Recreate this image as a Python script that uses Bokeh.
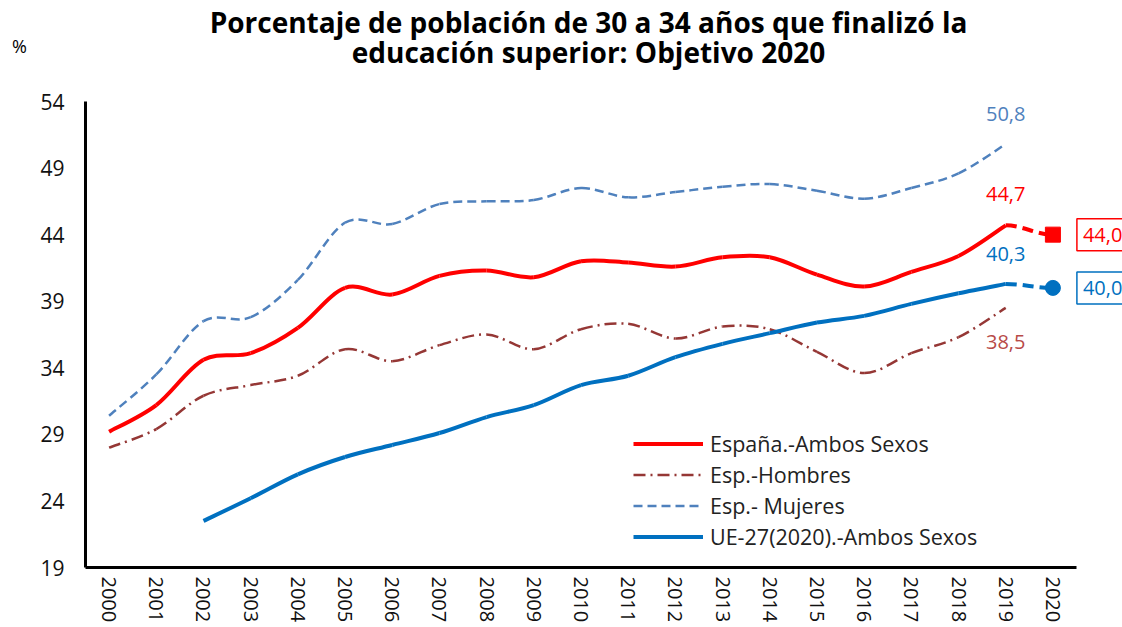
from bokeh.plotting import figure
from bokeh.models import Range1d, FixedTicker, Label, Legend, LegendItem, ColumnDataSource
from bokeh.embed import file_html
from bokeh.resources import INLINE

# ---------------- data ----------------
years = list(range(2000, 2020))
espana = [29.2, 31.2, 34.6, 35.1, 37.0, 40.0, 39.5, 40.9, 41.3, 40.8,
          42.0, 41.9, 41.6, 42.3, 42.3, 41.0, 40.1, 41.2, 42.4, 44.7]
hombres = [28.0, 29.4, 31.9, 32.7, 33.4, 35.4, 34.5, 35.7, 36.5, 35.4,
           36.9, 37.3, 36.2, 37.1, 36.9, 35.2, 33.6, 35.1, 36.3, 38.5]
mujeres = [30.4, 33.5, 37.5, 37.8, 40.6, 44.9, 44.8, 46.3, 46.5, 46.6,
           47.5, 46.8, 47.2, 47.6, 47.8, 47.3, 46.7, 47.5, 48.6, 50.8]
ue_years = list(range(2002, 2020))
ue27 = [22.5, 24.2, 26.0, 27.3, 28.2, 29.1, 30.3, 31.2, 32.7, 33.4,
        34.8, 35.8, 36.6, 37.4, 37.9, 38.8, 39.6, 40.3]
obj_year = 2020
obj_espana = 44.0
obj_ue27 = 40.0
x_ticks = list(range(2000, 2021))
y_ticks = [19, 24, 29, 34, 39, 44, 49, 54]

FONT = "Open Sans"
RED = "#FF0000"
HOM = "#953735"
MUJ = "#4F81BD"
UE = "#0070C0"
NAN = float("nan")

# layout geometry (pixels): plot area 991 x 466 px for 21 years x 35 points
W, H = 1122, 627
AX_L, AX_R, AX_T, AX_B = 85, 1076, 101, 567
PX_X = (AX_R - AX_L) / 21.0
PX_Y = (AX_B - AX_T) / 35.0
x0 = 1999.5 - AX_L / PX_X
x1 = 2020.5 + (W - AX_R) / PX_X
y0 = 19 - (H - AX_B) / PX_Y
y1 = 54 + AX_T / PX_Y


def smooth_src(xs, ys):
    """Cubic Bezier segments (Excel-like smoothing) built from the data points."""
    n = len(xs)
    d = dict(x0=[], y0=[], x1=[], y1=[], cx0=[], cy0=[], cx1=[], cy1=[])
    for i in range(n - 1):
        xp, yp = (xs[i - 1], ys[i - 1]) if i > 0 else (xs[i], ys[i])
        xn, yn = (xs[i + 2], ys[i + 2]) if i + 2 < n else (xs[i + 1], ys[i + 1])
        d["x0"].append(xs[i]); d["y0"].append(ys[i])
        d["x1"].append(xs[i + 1]); d["y1"].append(ys[i + 1])
        d["cx0"].append(xs[i] + (xs[i + 1] - xp) / 6.0)
        d["cy0"].append(ys[i] + (ys[i + 1] - yp) / 6.0)
        d["cx1"].append(xs[i + 1] - (xn - xs[i]) / 6.0)
        d["cy1"].append(ys[i + 1] - (yn - ys[i]) / 6.0)
    return ColumnDataSource(d)


p = figure(width=W, height=H, output_backend="svg", toolbar_location=None,
           x_range=Range1d(x0, x1), y_range=Range1d(y0, y1),
           min_border_left=0, min_border_right=0, min_border_top=0,
           min_border_bottom=0)
p.title.visible = False
p.xgrid.visible = False
p.ygrid.visible = False
p.outline_line_color = None
p.background_fill_color = "white"
p.border_fill_color = "white"

for ax in (p.xaxis, p.yaxis):
    ax.axis_line_color = "black"
    ax.axis_line_width = 3
    ax.major_tick_out = 0
    ax.major_tick_in = 0
    ax.minor_tick_out = 0
    ax.minor_tick_in = 0
    ax.major_label_text_font = FONT
    ax.major_label_text_color = "#111111"

p.xaxis.ticker = FixedTicker(ticks=x_ticks)
p.xaxis.bounds = (1999.5, 2020.5)
p.xaxis.fixed_location = 19
p.xaxis.major_label_orientation = "vertical"
p.xaxis.major_label_text_font_size = "20px"
p.xaxis.major_label_standoff = 9
p.yaxis.ticker = FixedTicker(ticks=y_ticks)
p.yaxis.bounds = (19, 54)
p.yaxis.fixed_location = 1999.5
p.yaxis.major_label_text_font_size = "21px"
p.yaxis.major_label_standoff = 21

# series (smoothed)
p.bezier(source=smooth_src(years, mujeres), line_color=MUJ, line_width=2.5, line_dash="9 5")
p.bezier(source=smooth_src(years, hombres), line_color=HOM, line_width=2.5, line_dash="12 5 2 5")
p.bezier(source=smooth_src(ue_years, ue27), line_color=UE, line_width=4)
p.bezier(source=smooth_src(years, espana), line_color=RED, line_width=4)

# 2019 -> 2020 objective (dashed)
obj_es = ColumnDataSource(dict(x0=[years[-1]], y0=[espana[-1]], x1=[obj_year], y1=[obj_espana],
                               cx0=[years[-1] + 0.35], cy0=[espana[-1]],
                               cx1=[obj_year - 0.35], cy1=[obj_espana]))
obj_ue = ColumnDataSource(dict(x0=[ue_years[-1]], y0=[ue27[-1]], x1=[obj_year], y1=[obj_ue27],
                               cx0=[ue_years[-1] + 0.35], cy0=[ue27[-1]],
                               cx1=[obj_year - 0.35], cy1=[obj_ue27]))
p.bezier(source=obj_es, line_color=RED, line_width=4, line_dash="11 6")
p.bezier(source=obj_ue, line_color=UE, line_width=4, line_dash="11 6")
p.scatter([obj_year], [obj_espana], marker="square", size=15, color=RED)
p.scatter([obj_year], [obj_ue27], marker="circle", size=15, color=UE)

# legend (placeholder line renderers carry the styles)
r1 = p.line(x=[NAN, NAN], y=[NAN, NAN], line_color=RED, line_width=4)
r2 = p.line(x=[NAN, NAN], y=[NAN, NAN], line_color=HOM, line_width=2.5, line_dash="12 5 2 5")
r3 = p.line(x=[NAN, NAN], y=[NAN, NAN], line_color=MUJ, line_width=2.5, line_dash="9 5")
r4 = p.line(x=[NAN, NAN], y=[NAN, NAN], line_color=UE, line_width=4)
legend = Legend(items=[LegendItem(label="España.-Ambos Sexos", renderers=[r1]),
                       LegendItem(label="Esp.-Hombres", renderers=[r2]),
                       LegendItem(label="Esp.- Mujeres", renderers=[r3]),
                       LegendItem(label="UE-27(2020).-Ambos Sexos", renderers=[r4])],
                location=(633, 75))
legend.border_line_color = None
legend.background_fill_alpha = 0
legend.margin = 0
legend.padding = 0
legend.spacing = 0
legend.glyph_width = 70
legend.glyph_height = 31
legend.label_height = 31
legend.label_standoff = 7
legend.label_text_font = FONT
legend.label_text_font_size = "21.5px"
legend.label_text_color = "#222222"
p.add_layout(legend)

# value labels
vl = dict(text_font=FONT, text_font_size="20px", text_align="center", text_baseline="middle")
p.add_layout(Label(x=years[-1], y=mujeres[-1], y_offset=30, text="50,8", text_color=MUJ, **vl))
p.add_layout(Label(x=years[-1], y=espana[-1], y_offset=31, text="44,7", text_color=RED, **vl))
p.add_layout(Label(x=ue_years[-1], y=ue27[-1], y_offset=30, text="40,3", text_color=UE, **vl))
p.add_layout(Label(x=years[-1], y=hombres[-1], y_offset=-34, text="38,5", text_color="#B84A48", **vl))

bx = dict(text_font=FONT, text_font_size="20px", text_align="left", text_baseline="middle",
          background_fill_color="white", padding=(6, 9), border_line_width=1.5)
p.add_layout(Label(x=obj_year, y=obj_espana, x_offset=24, text="44,0", text_color=RED,
                   border_line_color=RED, **bx))
p.add_layout(Label(x=obj_year, y=obj_ue27, x_offset=24, text="40,0", text_color=UE,
                   border_line_color=UE, **bx))

# title and unit (screen units measured from the bottom-left of the canvas)
tt = dict(x_units="screen", y_units="screen", text_font=FONT, text_font_size="28px",
          text_font_style="bold", text_align="center", text_baseline="middle", text_color="black")
p.add_layout(Label(x=588, y=H - 21, text="Porcentaje de población de 30 a 34 años que finalizó la", **tt))
p.add_layout(Label(x=588, y=H - 51, text="educación superior: Objetivo 2020", **tt))
p.add_layout(Label(x=19, y=H - 45, x_units="screen", y_units="screen", text="%", text_font=FONT,
                   text_font_size="18px", text_align="center", text_baseline="middle",
                   text_color="black"))

open("out.html", "w").write(file_html(p, INLINE))
